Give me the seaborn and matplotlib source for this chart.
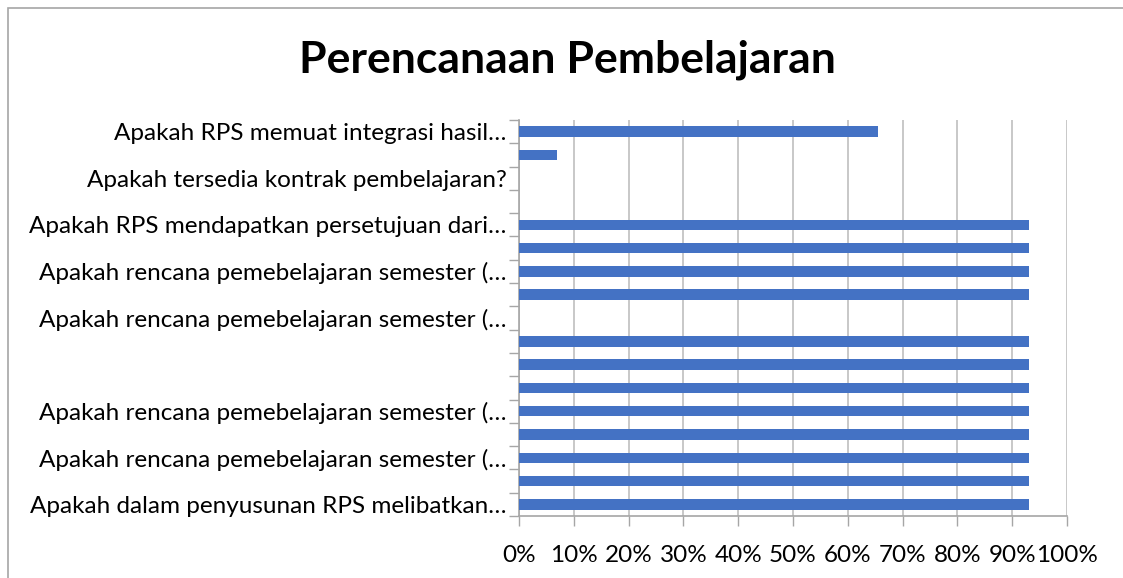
import matplotlib
matplotlib.use("Agg")
import matplotlib.pyplot as plt
import seaborn as sns
import pandas as pd
import numpy as np
from matplotlib.patches import Rectangle

# Data (top to bottom)
kode = [f"Q{i}" for i in range(1, 18)]
label = [
    "Apakah RPS memuat integrasi hasil…",
    "",
    "Apakah tersedia kontrak pembelajaran?",
    "",
    "Apakah RPS mendapatkan persetujuan dari…",
    "",
    "Apakah rencana pemebelajaran semester (…",
    "",
    "Apakah rencana pemebelajaran semester (…",
    "",
    "",
    "",
    "Apakah rencana pemebelajaran semester (…",
    "",
    "Apakah rencana pemebelajaran semester (…",
    "",
    "Apakah dalam penyusunan RPS melibatkan…",
]
persen = [65.5, 6.9, 0, 0, 93.1, 93.1, 93.1, 93.1, 0,
          93.1, 93.1, 93.1, 93.1, 93.1, 93.1, 93.1, 93.1]
xticks = [0, 10, 20, 30, 40, 50, 60, 70, 80, 90, 100]

df = pd.DataFrame({"kode": kode, "persen": persen})

sns.set_style("white")
plt.rcParams['font.family'] = ['Lato', 'DejaVu Sans']

fig = plt.figure(figsize=(11.23, 5.78), dpi=100)
ax = fig.add_axes([519/1123, 1-516/578, (1067-519)/1123, (516-120)/578])

sns.barplot(data=df, x="persen", y="kode", orient="h", color="#4472C4",
            saturation=1, width=0.45, linewidth=0, ax=ax, zorder=3)

ax.set_xlim(0, 100)
ax.set_ylim(len(kode)-0.5, -0.5)
ax.set_xticks(xticks)
ax.set_xticklabels([f"{t}%" for t in xticks], fontsize=17.5, color="#000000")
ax.set_yticks(range(len(kode)))
ax.set_yticklabels(label, fontsize=17.5, color="#000000")
ax.tick_params(axis="y", which="major", length=0, pad=9, left=False)
ax.set_yticks(np.arange(-0.5, len(kode), 1), minor=True)
ax.tick_params(axis="y", which="minor", length=7, color="#A6A6A6", width=1,
               direction="out", left=True)
ax.tick_params(axis="x", which="major", length=7, color="#A6A6A6", width=1,
               pad=14, bottom=True)
ax.set_xlabel("")
ax.set_ylabel("")

ax.grid(axis="x", color="#BFBFBF", linewidth=1.2, zorder=0)
ax.set_axisbelow(True)
for s in ["top", "right"]:
    ax.spines[s].set_visible(False)
for s in ["left", "bottom"]:
    ax.spines[s].set_color("#A6A6A6")
    ax.spines[s].set_linewidth(1.2)

fig.text(567/1123, 1-60/578, "Perencanaan Pembelajaran", ha="center", va="center",
         fontsize=32, fontweight="bold", color="#000000")

fig.patches.append(Rectangle((8/1123, -0.1), 1.2, 1-8/578+0.1, transform=fig.transFigure,
                             fill=False, edgecolor="#A6A6A6", linewidth=1.2))

fig.savefig("out.png", dpi=100)
